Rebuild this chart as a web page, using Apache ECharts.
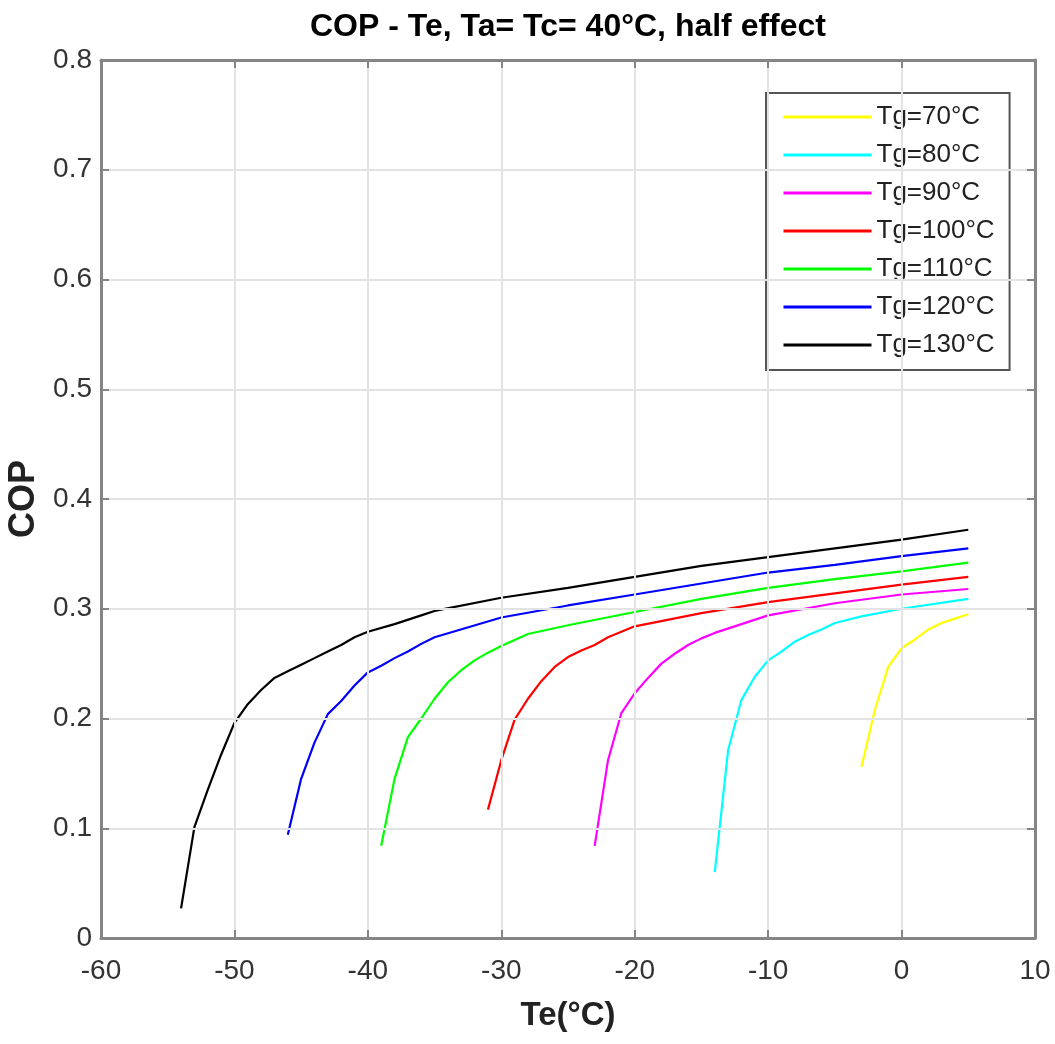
<!DOCTYPE html>
<html>
<head>
<meta charset="utf-8">
<script src="https://cdn.jsdelivr.net/npm/echarts@6/dist/echarts.min.js"></script>
<style>
html,body{margin:0;padding:0;background:#fff;}
#chart{width:1055px;height:1044px;}
</style>
</head>
<body>
<div id="chart"></div>
<script>
// ---- data ----
const seriesNames = ['Tg=70°C','Tg=80°C','Tg=90°C','Tg=100°C','Tg=110°C','Tg=120°C','Tg=130°C'];
const seriesColors = ['#ffff00','#00ffff','#ff00ff','#ff0000','#00ff00','#0000ff','#000000'];

const te70  = [-3,-2,-1,0,1,2,3,4,5];
const cop70 = [0.156,0.208,0.247,0.264,0.272,0.281,0.287,0.291,0.295];

const te80  = [-14,-13,-12,-11,-10,-9,-8,-7,-6,-5,-3,0,5];
const cop80 = [0.060,0.171,0.217,0.238,0.253,0.261,0.270,0.276,0.281,0.287,0.293,0.300,0.309];

const te90  = [-23,-22,-21,-20,-19,-18,-17,-16,-15,-14,-12,-10,-5,0,5];
const cop90 = [0.084,0.162,0.205,0.223,0.237,0.250,0.259,0.267,0.273,0.278,0.286,0.294,0.305,0.313,0.318];

const te100  = [-31,-30,-29,-28,-27,-26,-25,-24,-23,-22,-21,-20,-15,-10,-5,0,5];
const cop100 = [0.117,0.162,0.199,0.218,0.234,0.247,0.256,0.262,0.267,0.274,0.279,0.284,0.296,0.306,0.314,0.322,0.329];

const te110  = [-39,-38,-37,-36,-35,-34,-33,-32,-31,-30,-28,-25,-20,-15,-10,-5,0,5];
const cop110 = [0.084,0.145,0.183,0.200,0.218,0.233,0.244,0.253,0.260,0.266,0.277,0.285,0.297,0.309,0.319,0.327,0.334,0.342];

const te120  = [-46,-45,-44,-43,-42,-41,-40,-39,-38,-37,-36,-35,-30,-25,-20,-15,-10,-5,0,5];
const cop120 = [0.094,0.145,0.178,0.204,0.216,0.230,0.242,0.248,0.255,0.261,0.268,0.274,0.292,0.303,0.313,0.323,0.333,0.340,0.348,0.355];

const te130  = [-54,-53,-52,-51,-50,-49,-48,-47,-46,-45,-44,-43,-42,-41,-40,-38,-36,-35,-30,-25,-20,-15,-10,-5,0,5];
const cop130 = [0.027,0.101,0.135,0.167,0.196,0.213,0.226,0.237,0.243,0.249,0.255,0.261,0.267,0.274,0.279,0.286,0.294,0.298,0.310,0.319,0.329,0.339,0.347,0.355,0.363,0.372];

const xTicks = {min:-60, max:10, step:10};
const yTicks = {min:0, max:0.8, step:0.1};

// ---- chart ----
const teAll  = [te70, te80, te90, te100, te110, te120, te130];
const copAll = [cop70, cop80, cop90, cop100, cop110, cop120, cop130];

const FONT = "'Liberation Sans', Arial, Helvetica, sans-serif";
const axisGrey = '#858585';

function baseAxis(showLabels, extra) {
  return Object.assign({
    type: 'value',
    axisLine: {show: true, onZero: false, lineStyle: {color: axisGrey, width: 3}},
    axisTick: {show: true, inside: true, length: 8, lineStyle: {color: axisGrey, width: 2}},
    axisLabel: {show: showLabels, fontFamily: FONT, fontSize: 28, color: '#333'},
    splitLine: {show: false},
    z: 10
  }, extra);
}

const series = teAll.map((te, i) => ({
  name: seriesNames[i],
  type: 'line',
  xAxisIndex: 0,
  yAxisIndex: 0,
  symbol: 'none',
  showSymbol: false,
  smooth: false,
  animation: false,
  color: seriesColors[i],
  lineStyle: {color: seriesColors[i], width: 2.2},
  data: te.map((t, k) => [t, copAll[i][k]])
}));

const chart = echarts.init(document.getElementById('chart'), null, {renderer: 'canvas'});
chart.setOption({
  animation: false,
  backgroundColor: '#ffffff',
  title: {
    text: 'COP - Te, Ta= Tc= 40°C, half effect',
    left: 568,
    top: 11,
    padding: 0,
    textAlign: 'center',
    textStyle: {fontFamily: FONT, fontSize: 32, fontWeight: 'bold', color: '#000'}
  },
  grid: {left: 101, top: 60, right: 20, bottom: 106, containLabel: false, outerBoundsMode: 'none'},
  legend: {
    data: seriesNames,
    orient: 'vertical',
    left: 766,
    top: 93,
    padding: [11, 15, 12, 16],
    itemWidth: 88,
    itemHeight: 12,
    itemGap: 12,
    backgroundColor: '#ffffff',
    borderColor: '#555',
    borderWidth: 2,
    borderRadius: 0,
    itemStyle: {opacity: 0},
    lineStyle: {width: 3},
    textStyle: {fontFamily: FONT, fontSize: 26, color: '#222'},
    selectedMode: false
  },
  xAxis: [
    baseAxis(true, {
      position: 'bottom', min: xTicks.min, max: xTicks.max, interval: xTicks.step,
      name: 'Te(°C)', nameLocation: 'middle', nameGap: 61,
      nameTextStyle: {fontFamily: FONT, fontSize: 33, fontWeight: 'bold', color: '#222'},
      axisLabel: {show: true, fontFamily: FONT, fontSize: 28, color: '#333', margin: 19},
      splitLine: {show: true, lineStyle: {color: '#e3e3e3', width: 2}}
    }),
    baseAxis(false, {position: 'top', min: xTicks.min, max: xTicks.max, interval: xTicks.step})
  ],
  yAxis: [
    baseAxis(true, {
      position: 'left', min: yTicks.min, max: yTicks.max, interval: yTicks.step,
      name: 'COP', nameLocation: 'middle', nameGap: 58,
      nameTextStyle: {fontFamily: FONT, fontSize: 36, fontWeight: 'bold', color: '#222'},
      axisLabel: {show: true, fontFamily: FONT, fontSize: 28, color: '#333', margin: 9,
        formatter: v => (Math.round(v * 10) / 10).toString()},
      splitLine: {show: true, lineStyle: {color: '#e3e3e3', width: 2}}
    }),
    baseAxis(false, {position: 'right', min: yTicks.min, max: yTicks.max, interval: yTicks.step})
  ],
  series: series
});
</script>
</body>
</html>
